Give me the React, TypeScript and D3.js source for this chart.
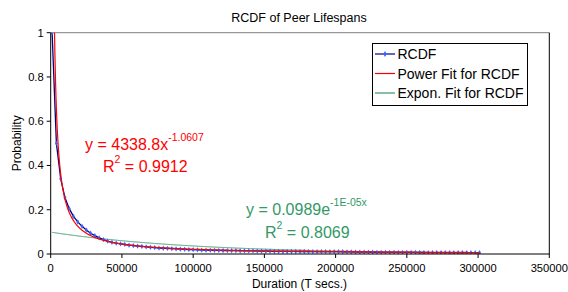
import React from 'react';
import * as d3 from 'd3';

const xTicks = [0, 50000, 100000, 150000, 200000, 250000, 300000, 350000];
const yTicks = [0, 0.2, 0.4, 0.6, 0.8, 1];

// RCDF samples, one every 3000 T secs. starting at 1000
const rcdfX = d3.range(1000, 302000, 3000);
const rcdfY = [
	1.0, 0.5, 0.34, 0.255, 0.205, 0.17, 0.145, 0.125, 0.108, 0.094,
	0.083, 0.073, 0.065, 0.058, 0.053, 0.049, 0.046, 0.043, 0.04, 0.038,
	0.036, 0.034, 0.032, 0.03, 0.029, 0.027, 0.026, 0.025, 0.024, 0.023,
	0.022, 0.021, 0.02, 0.0195, 0.019, 0.018, 0.0175, 0.017, 0.0165, 0.016,
	0.0158, 0.0155, 0.015, 0.0148, 0.0145, 0.0142, 0.014, 0.0138, 0.0135, 0.013,
	0.0128, 0.0125, 0.0122, 0.012, 0.0118, 0.0117, 0.0116, 0.0115, 0.0114, 0.0113,
	0.0112, 0.0111, 0.011, 0.0109, 0.0108, 0.0107, 0.0106, 0.0104, 0.0102, 0.01,
	0.0095, 0.009, 0.0087, 0.0085, 0.0083, 0.008, 0.0078, 0.0077, 0.0076, 0.0075,
	0.0074, 0.0073, 0.0072, 0.0071, 0.007, 0.0069, 0.0068, 0.0067, 0.0066, 0.0065,
	0.0064, 0.0063, 0.0062, 0.0062, 0.0061, 0.006, 0.006, 0.0059, 0.0058, 0.0058,
	0.0057,
];

// trendline coefficients as printed on the chart
const powA = 4338.8;
const powB = -1.0607;
const expA = 0.0989;
const expB = -1e-5;

const W = 568;
const H = 292;
const font = 'Arial, "Liberation Sans", sans-serif';

const App: React.FC = () => {
	const x = d3.scaleLinear().domain([0, 350000]).range([50.7, 549.3]);
	const y = d3.scaleLinear().domain([0, 1]).range([254, 32.7]);

	const rcdf = rcdfX.map((v, i) => [v, rcdfY[i]] as [number, number]);
	const fitX = d3.range(1000, 301001, 250);
	const pow = fitX.map((v) => [v, powA * Math.pow(v, powB)] as [number, number]);
	const expo = fitX.map((v) => [v, expA * Math.exp(expB * v)] as [number, number]);

	const line = d3
		.line<[number, number]>()
		.x((d) => x(d[0]))
		.y((d) => y(d[1]));

	const [x0, x1] = x.range();
	const [yb, yt] = y.range();

	return (
		<div style={{ position: 'absolute', left: 0, top: 0 }}>
			<svg width={W} height={H} style={{ display: 'block', background: '#fff' }}>
				<defs>
					<clipPath id="plot">
						<rect x={x0} y={yt} width={x1 - x0} height={yb - yt} />
					</clipPath>
				</defs>
				<text x={299} y={22} textAnchor="middle" fontFamily={font} fontSize={12.5} fill="#000">
					RCDF of Peer Lifespans
				</text>

				{/* plot frame */}
				<line x1={x0} x2={x1} y1={yt} y2={yt} stroke="#808080" />
				<line x1={x1} x2={x1} y1={yt} y2={yb} stroke="#000" />

				<g clipPath="url(#plot)">
					<path d={line(expo) ?? ''} fill="none" stroke="#339966" strokeWidth={1} />
					<path d={line(rcdf) ?? ''} fill="none" stroke="#000080" strokeWidth={1.3} />
					{rcdf.map((d, i) => (
						<path
							key={i}
							d={d3.symbol(d3.symbolDiamond, 8)() ?? ''}
							transform={`translate(${x(d[0])},${y(d[1])})`}
							fill="#3366ff"
						/>
					))}
					<path d={line(pow) ?? ''} fill="none" stroke="#ff0000" strokeWidth={1.2} />
				</g>

				{/* axes */}
				<line x1={x0} x2={x0} y1={yt} y2={yb} stroke="#000" />
				<line x1={x0} x2={x1} y1={yb} y2={yb} stroke="#000" />
				{yTicks.map((t) => (
					<g key={t}>
						<line x1={x0 - 4} x2={x0} y1={y(t)} y2={y(t)} stroke="#000" />
						<text
							x={x0 - 7}
							y={y(t) + 4}
							textAnchor="end"
							fontFamily={font}
							fontSize={11.2}
							fill="#000">
							{t}
						</text>
					</g>
				))}
				{xTicks.map((t) => (
					<g key={t}>
						<line x1={x(t)} x2={x(t)} y1={yb} y2={yb + 4} stroke="#000" />
						<text
							x={x(t)}
							y={yb + 18}
							textAnchor="middle"
							fontFamily={font}
							fontSize={11.2}
							fill="#000">
							{t}
						</text>
					</g>
				))}
				<text x={299.5} y={288} textAnchor="middle" fontFamily={font} fontSize={12} fill="#000">
					Duration (T secs.)
				</text>
				<text
					transform={`translate(20.5,${(yt + yb) / 2}) rotate(-90)`}
					textAnchor="middle"
					fontFamily={font}
					fontSize={12}
					fill="#000">
					Probability
				</text>

				{/* trendline labels */}
				<text x={85} y={150} fontFamily={font} fontSize={16} fill="#ff0000">
					y = 4338.8x<tspan dy={-9} fontSize={10.5}>-1.0607</tspan>
				</text>
				<text x={103} y={172} fontFamily={font} fontSize={16} fill="#ff0000">
					R<tspan dy={-9} fontSize={10.5}>2</tspan>
					<tspan dy={9}> = 0.9912</tspan>
				</text>
				<text x={246} y={215} fontFamily={font} fontSize={16} fill="#339966">
					y = 0.0989e<tspan dy={-9} fontSize={10.5}>-1E-05x</tspan>
				</text>
				<text x={265} y={238} fontFamily={font} fontSize={16} fill="#339966">
					R<tspan dy={-9} fontSize={10.5}>2</tspan>
					<tspan dy={9}> = 0.8069</tspan>
				</text>

				{/* legend */}
				<g>
					<rect x={372.5} y={43.5} width={155} height={62} fill="#fff" stroke="#000" />
					<line x1={375} x2={395} y1={54} y2={54} stroke="#000080" strokeWidth={1.2} />
					<path
						d={d3.symbol(d3.symbolDiamond, 10)() ?? ''}
						transform="translate(385,54)"
						fill="#3366ff"
					/>
					<text x={397.5} y={59} fontFamily={font} fontSize={14} fill="#000">
						RCDF
					</text>
					<line x1={375} x2={395} y1={73.5} y2={73.5} stroke="#ff0000" strokeWidth={1.2} />
					<text x={397.5} y={78.5} fontFamily={font} fontSize={14} fill="#000">
						Power Fit for RCDF
					</text>
					<line x1={375} x2={395} y1={93} y2={93} stroke="#339966" strokeWidth={1.2} />
					<text x={397.5} y={98} fontFamily={font} fontSize={14} fill="#000">
						Expon. Fit for RCDF
					</text>
				</g>
			</svg>
		</div>
	);
};

export default App;
